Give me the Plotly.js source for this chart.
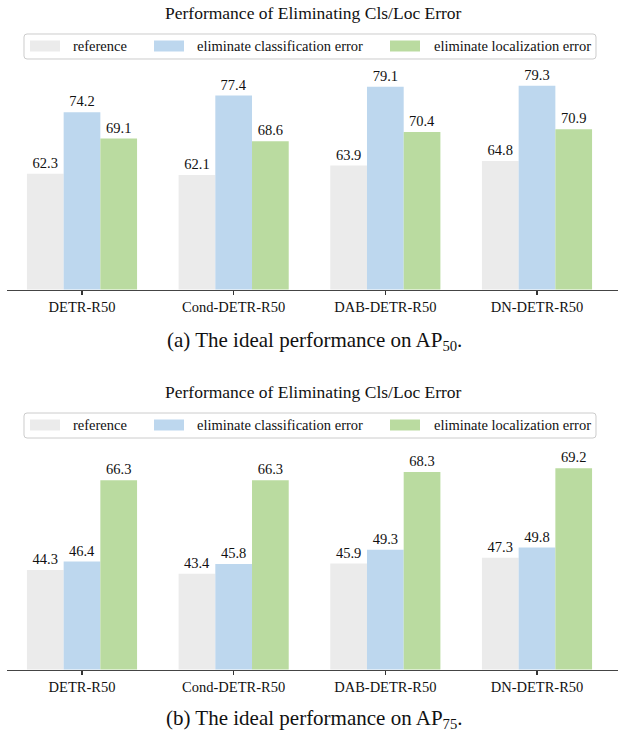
<!DOCTYPE html>
<html>
<head>
<meta charset="utf-8">
<script src="https://cdn.plot.ly/plotly-3.0.1.min.js"></script>
<style>html,body{margin:0;padding:0;background:#fff;}#chart{width:618px;height:731px;}</style>
</head>
<body>
<div id="chart"></div>
<script>
// ---- data ----
const categories = ["DETR-R50", "Cond-DETR-R50", "DAB-DETR-R50", "DN-DETR-R50"];
const seriesNames = ["reference", "eliminate classification error", "eliminate localization error"];
const ap50_reference = [62.3, 62.1, 63.9, 64.8];
const ap50_cls = [74.2, 77.4, 79.1, 79.3];
const ap50_loc = [69.1, 68.6, 70.4, 70.9];
const ap75_reference = [44.3, 43.4, 45.9, 47.3];
const ap75_cls = [46.4, 45.8, 49.3, 49.8];
const ap75_loc = [66.3, 66.3, 68.3, 69.2];
const chartTitle = "Performance of Eliminating Cls/Loc Error";
const captionA = "(a) The ideal performance on AP<sub>50</sub>.";
const captionB = "(b) The ideal performance on AP<sub>75</sub>.";

// ---- styles ----
const W = 618, H = 731;
const colors = ["#ebebeb", "#bdd7ee", "#badba0"];
const FONT = "'Liberation Serif', 'Times New Roman', Times, serif";
const px = x => x / W;
const py = y => 1 - y / H;

function barTrace(name, vals, color, xa, ya) {
  return {
    type: "bar", name: name, x: categories, y: vals,
    xaxis: xa, yaxis: ya,
    marker: {color: color, line: {width: 0}},
    text: vals.map(v => v.toFixed(1)),
    textposition: "outside",
    textfont: {family: FONT, size: 14.5, color: "#111"},
    cliponaxis: false,
    hoverinfo: "skip",
    showlegend: false
  };
}

const data = [
  barTrace(seriesNames[0], ap50_reference, colors[0], "x", "y"),
  barTrace(seriesNames[1], ap50_cls, colors[1], "x", "y"),
  barTrace(seriesNames[2], ap50_loc, colors[2], "x", "y"),
  barTrace(seriesNames[0], ap75_reference, colors[0], "x2", "y2"),
  barTrace(seriesNames[1], ap75_cls, colors[1], "x2", "y2"),
  barTrace(seriesNames[2], ap75_loc, colors[2], "x2", "y2")
];

const xCommon = {
  type: "category", range: [-0.4945, 3.534], domain: [px(7), 1],
  showline: true, linecolor: "#444", linewidth: 1.5,
  ticks: "outside", ticklen: 4, tickwidth: 1.2, tickcolor: "#333",
  showgrid: false, zeroline: false, fixedrange: true,
  tickfont: {family: FONT, size: 14.5, color: "#111"}
};
const yCommon = {visible: false, showgrid: false, zeroline: false, fixedrange: true};

const shapes = [];
const annotations = [];

function roundedRect(x0, y0, x1, y1, r) {
  const X = v => px(v).toFixed(5), Y = v => py(v).toFixed(5);
  return `M ${X(x0 + r)},${Y(y0)} L ${X(x1 - r)},${Y(y0)} Q ${X(x1)},${Y(y0)} ${X(x1)},${Y(y0 + r)} ` +
         `L ${X(x1)},${Y(y1 - r)} Q ${X(x1)},${Y(y1)} ${X(x1 - r)},${Y(y1)} L ${X(x0 + r)},${Y(y1)} ` +
         `Q ${X(x0)},${Y(y1)} ${X(x0)},${Y(y1 - r)} L ${X(x0)},${Y(y0 + r)} Q ${X(x0)},${Y(y0)} ${X(x0 + r)},${Y(y0)} Z`;
}

function addPanel(offset, caption, captionY) {
  // title
  annotations.push({xref: "paper", yref: "paper", x: px(313), y: py(13 + offset),
    text: chartTitle, showarrow: false, xanchor: "center", yanchor: "middle",
    font: {family: FONT, size: 17.5, color: "#111"}});
  // legend box
  shapes.push({type: "path", xref: "paper", yref: "paper",
    path: roundedRect(24, 34 + offset, 596, 59 + offset, 3),
    line: {color: "#cccccc", width: 1}, fillcolor: "rgba(255,255,255,0.8)"});
  const patchX = [30, 154, 390];
  const textX = [71, 195, 432];
  const rowY = 46 + offset;
  for (let i = 0; i < 3; i++) {
    shapes.push({type: "rect", xref: "paper", yref: "paper",
      x0: px(patchX[i]), x1: px(patchX[i] + 30), y0: py(rowY - 5.5), y1: py(rowY + 5.5),
      line: {width: 0}, fillcolor: colors[i]});
    annotations.push({xref: "paper", yref: "paper", x: px(textX[i]), y: py(rowY),
      text: seriesNames[i], showarrow: false, xanchor: "left", yanchor: "middle",
      font: {family: FONT, size: 14.5, color: "#111"}});
  }
  // caption
  annotations.push({xref: "paper", yref: "paper", x: px(314), y: py(captionY),
    text: caption, showarrow: false, xanchor: "center", yanchor: "middle",
    font: {family: FONT, size: 21, color: "#111"}});
}
addPanel(0, captionA, 341);
addPanel(379, captionB, 719);

const layout = {
  width: W, height: H,
  margin: {l: 0, r: 0, t: 0, b: 0, pad: 0},
  paper_bgcolor: "#fff", plot_bgcolor: "rgba(0,0,0,0)",
  font: {family: FONT, color: "#111"},
  barmode: "group", bargap: 0.274, bargroupgap: 0,
  showlegend: false,
  xaxis: Object.assign({}, xCommon, {anchor: "y"}),
  yaxis: Object.assign({}, yCommon, {domain: [py(289.5), py(24)], range: [40, 40 + 265.5 / 5.185], anchor: "x"}),
  xaxis2: Object.assign({}, xCommon, {anchor: "y2"}),
  yaxis2: Object.assign({}, yCommon, {domain: [py(669.5), py(404)], range: [20, 20 + 265.5 / 4.09], anchor: "x2"}),
  shapes: shapes,
  annotations: annotations
};

Plotly.newPlot("chart", data, layout, {staticPlot: true, displayModeBar: false});
</script>
</body>
</html>
